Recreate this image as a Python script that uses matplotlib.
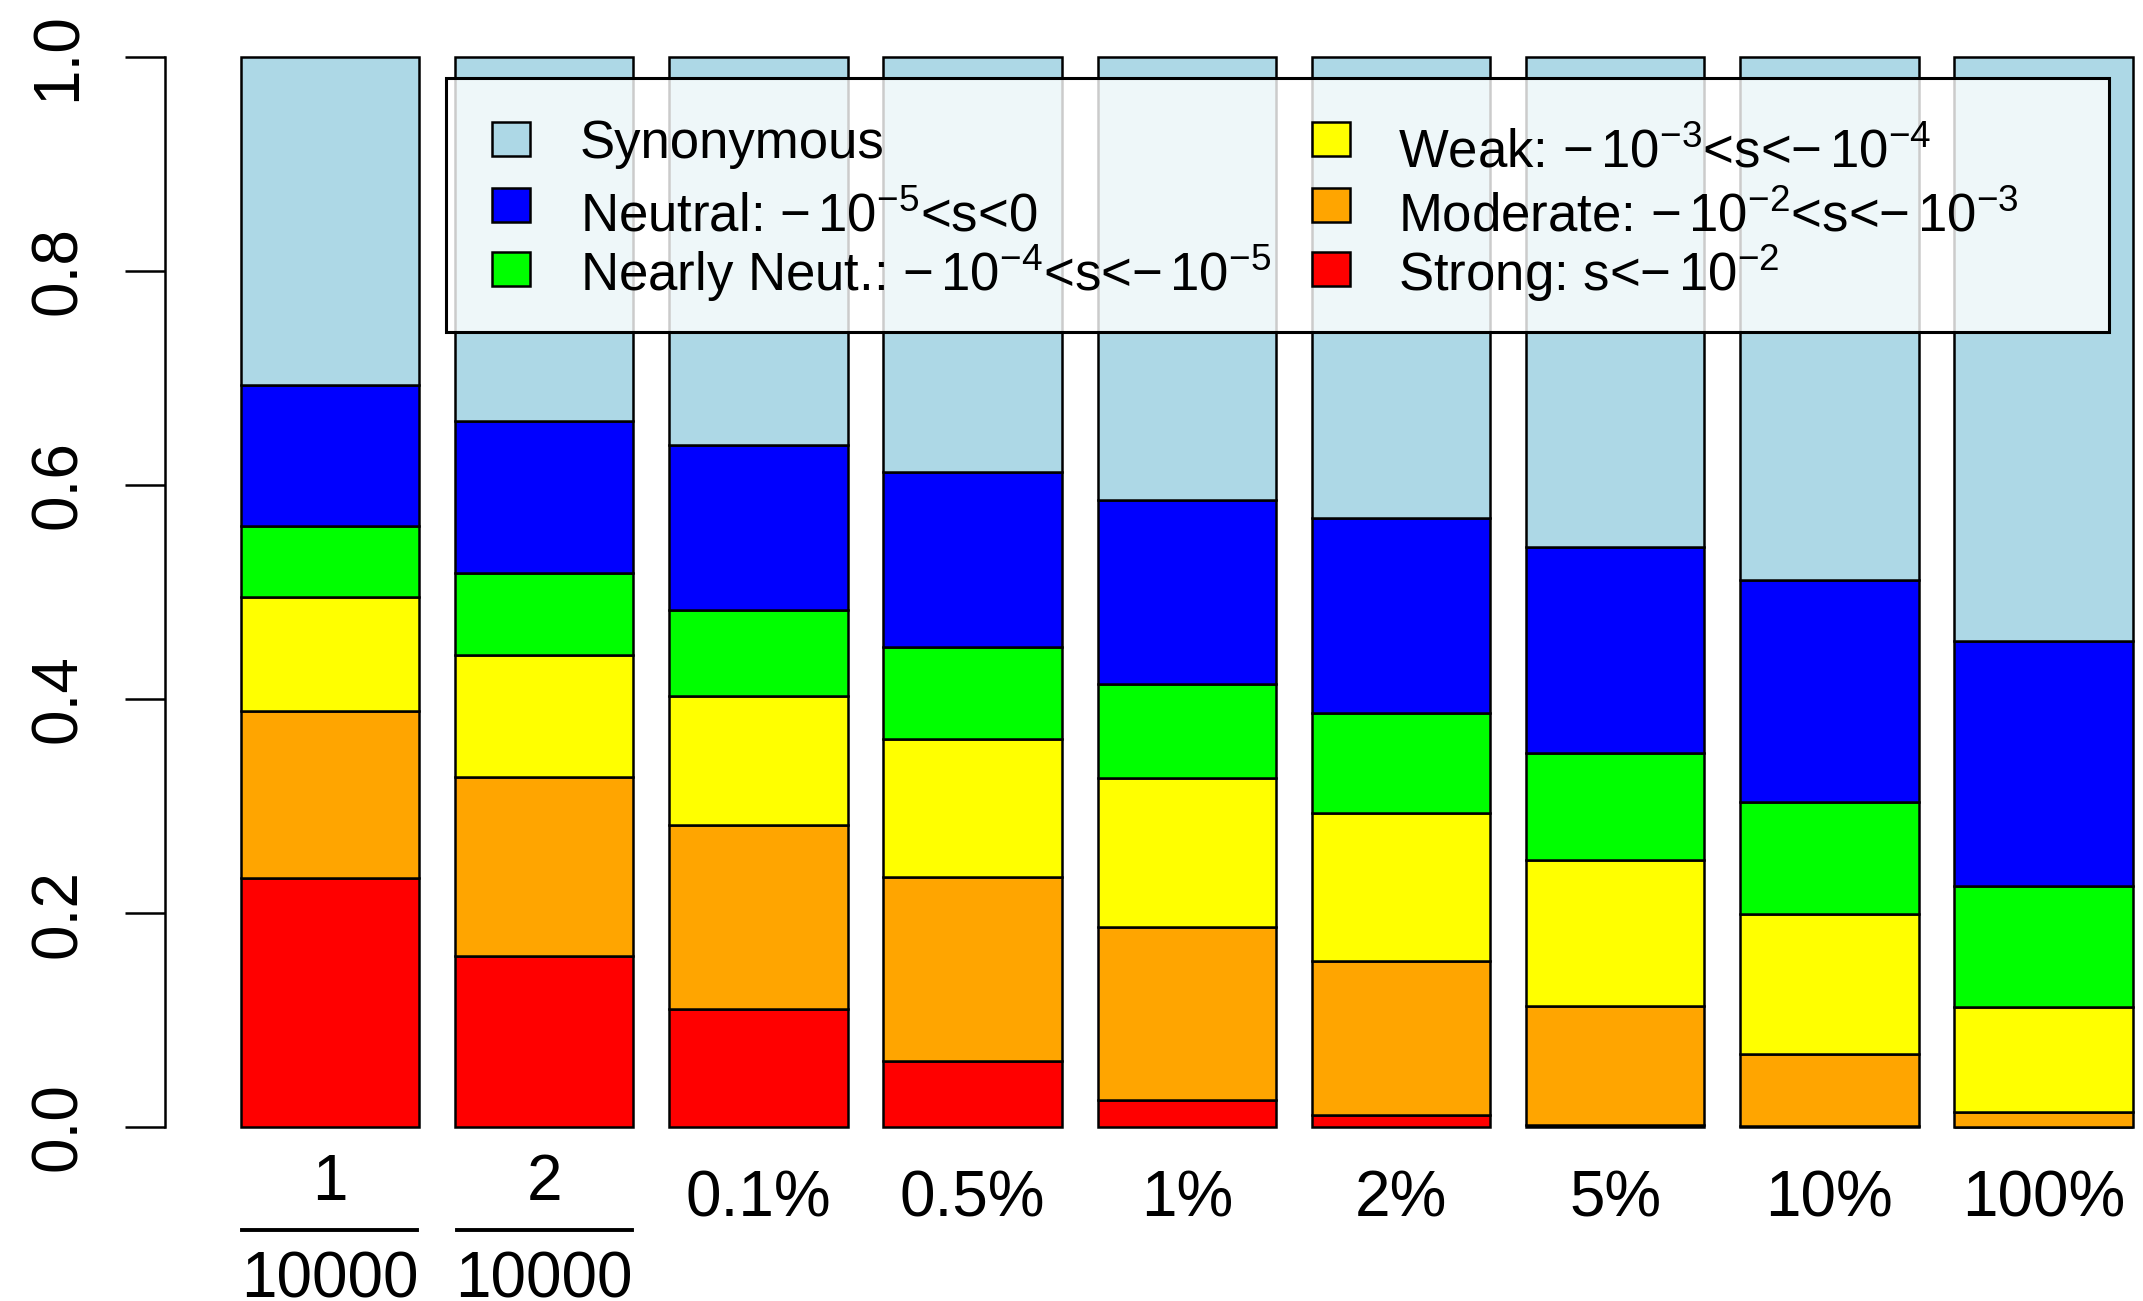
import matplotlib
matplotlib.use('Agg')
import matplotlib.pyplot as plt
import matplotlib.patches as mpatches
import matplotlib.lines as mlines
import matplotlib.transforms as mtransforms

plt.rcParams['font.family'] = ['Liberation Sans', 'DejaVu Sans']
plt.rcParams['mathtext.fontset'] = 'custom'
plt.rcParams['mathtext.rm'] = 'Liberation Sans'
plt.rcParams['mathtext.it'] = 'Liberation Sans:italic'
plt.rcParams['mathtext.bf'] = 'Liberation Sans:bold'

# x categories (a/b is drawn as a stacked fraction)
tick_labels = ['1/10000', '2/10000', '0.1%', '0.5%', '1%', '2%', '5%', '10%', '100%']

# segment heights, bottom to top
strong   = [0.233, 0.160, 0.110, 0.062, 0.025, 0.011, 0.002, 0.001, 0.000]
moderate = [0.156, 0.167, 0.172, 0.172, 0.162, 0.144, 0.111, 0.067, 0.014]
weak     = [0.106, 0.114, 0.121, 0.129, 0.139, 0.138, 0.137, 0.131, 0.098]
nearly   = [0.067, 0.077, 0.080, 0.086, 0.088, 0.094, 0.100, 0.105, 0.113]
neutral  = [0.131, 0.142, 0.154, 0.163, 0.172, 0.182, 0.192, 0.207, 0.229]
synonym  = [0.307, 0.340, 0.363, 0.388, 0.414, 0.431, 0.458, 0.489, 0.546]

colors = ['red', 'orange', 'yellow', '#00FF00', 'blue', 'lightblue']
labels = [r'Strong: s<$-\,10^{-2}$',
          r'Moderate: $-\,10^{-2}$<s<$-\,10^{-3}$',
          r'Weak: $-\,10^{-3}$<s<$-\,10^{-4}$',
          r'Nearly Neut.: $-\,10^{-4}$<s<$-\,10^{-5}$',
          r'Neutral: $-\,10^{-5}$<s<0',
          'Synonymous']
series = [strong, moderate, weak, nearly, neutral, synonym]

W, H = 2143, 1301
fig = plt.figure(figsize=(W / 100, H / 100), dpi=100)
ax = fig.add_axes([165 / W, 131.2 / H, 2043.6 / W, 1155.6 / H])

xs = [0.7 + 1.2 * i for i in range(len(tick_labels))]
bottom = [0.0] * len(xs)
for vals, col in zip(series, colors):
    ax.bar(xs, vals, width=1.0, bottom=bottom, color=col,
           edgecolor='black', linewidth=1.8)
    bottom = [bt + v for bt, v in zip(bottom, vals)]

ax.set_xlim(-0.224, 11.224)
ax.set_ylim(-0.04, 1.04)

for s in ['top', 'right', 'bottom']:
    ax.spines[s].set_visible(False)
ax.spines['left'].set_bounds(0, 1)
ax.spines['left'].set_linewidth(1.8)

ax.set_yticks([0.0, 0.2, 0.4, 0.6, 0.8, 1.0])
ax.set_yticklabels(['0.0', '0.2', '0.4', '0.6', '0.8', '1.0'])
ax.tick_params(axis='y', length=29, width=1.8, pad=26, labelsize=46)
for lbl in ax.get_yticklabels():
    lbl.set_rotation(90)
    lbl.set_va('center')

ax.set_xticks(xs)
ax.set_xticklabels(['' if '/' in t else t for t in tick_labels])
ax.tick_params(axis='x', length=0, pad=0, labelsize=46)

# fractions under the first two bars
ftr = mtransforms.blended_transform_factory(ax.transData, fig.transFigure)
for x, t in zip(xs, tick_labels):
    if '/' in t:
        num, den = t.split('/')
        fig.text(x, 1 - 1200 / H, num, transform=ftr, ha='center',
                 va='baseline', fontsize=46)
        fig.text(x, 1 - 1297 / H, den, transform=ftr, ha='center',
                 va='baseline', fontsize=46)
        fig.add_artist(mlines.Line2D([x - 0.49, x + 0.49], [1 - 1230 / H] * 2,
                                     transform=ftr, color='black', lw=2.8))

# legend box, drawn by hand in pixel positions
def fy(px):
    return 1 - px / H

fig.add_artist(mpatches.Rectangle((446 / W, fy(332)), 1663 / W, 254 / H,
                                  transform=fig.transFigure,
                                  facecolor=(1, 1, 1, 0.8), edgecolor='black',
                                  linewidth=2.2, zorder=5))
# (series index, handle x, text x, handle centre y, text baseline y)
entries = [(5, 492, 580, 139, 158), (4, 492, 580, 205, 231), (3, 492, 580, 269, 291),
           (2, 1312, 1398, 139, 167), (1, 1312, 1398, 205, 231), (0, 1312, 1398, 269, 291)]
for i, hx, tx, hy, ty in entries:
    fig.add_artist(mpatches.Rectangle((hx / W, fy(hy + 17)), 38 / W, 34 / H,
                                      transform=fig.transFigure,
                                      facecolor=colors[i], edgecolor='black',
                                      linewidth=1.8, zorder=6))
    fig.text(tx / W, fy(ty), labels[i], fontsize=38, va='baseline',
             ha='left', zorder=6)

fig.savefig('out.png', dpi=100)
